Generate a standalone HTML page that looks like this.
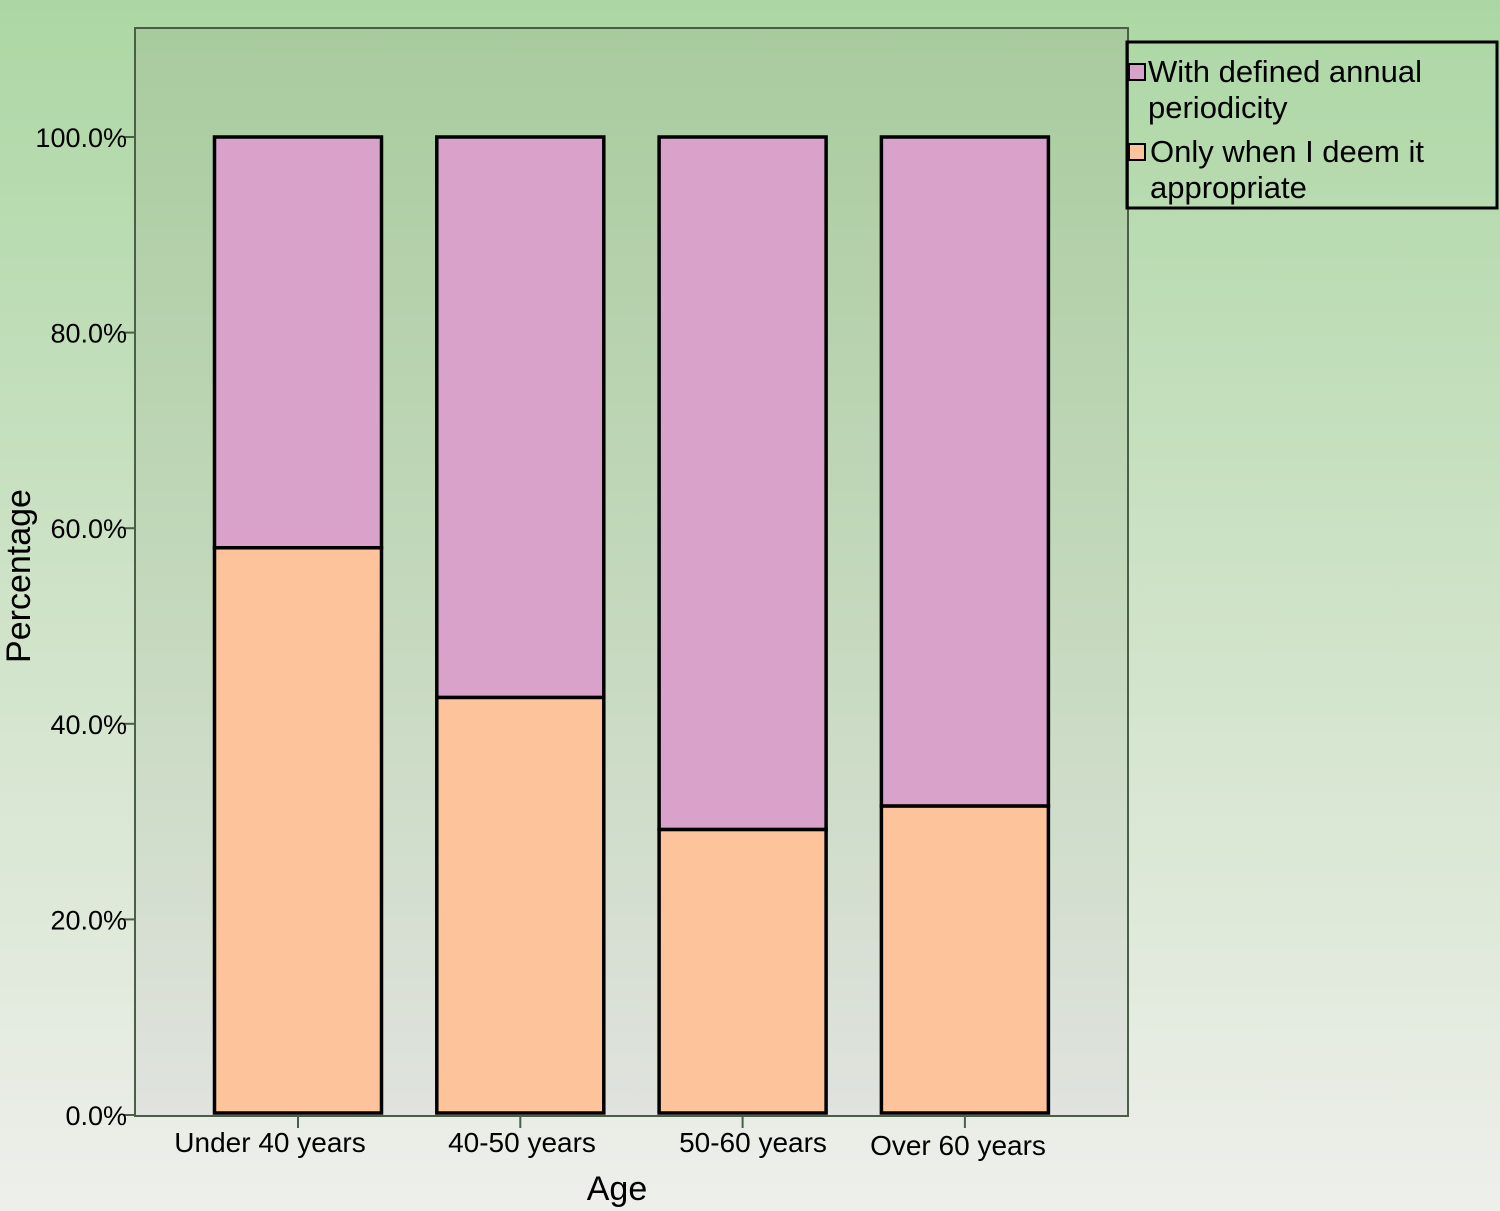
<!DOCTYPE html>
<html><head><meta charset="utf-8"><style>
html,body{margin:0;padding:0;width:1500px;height:1211px;overflow:hidden}
svg{display:block;font-family:"Liberation Sans",Arial,sans-serif}
</style></head><body>
<svg id="chart" width="1500" height="1211" viewBox="0 0 1500 1211" xmlns="http://www.w3.org/2000/svg">
<defs>
<linearGradient id="bgG" x1="0" y1="0" x2="0" y2="1"><stop offset="0" stop-color="#acd7a4"/><stop offset="0.5" stop-color="#cfe3c8"/><stop offset="1" stop-color="#eeefeb"/></linearGradient>
<linearGradient id="plotG" x1="0" y1="0" x2="0" y2="1"><stop offset="0" stop-color="#a8cb9e"/><stop offset="0.5" stop-color="#c3d8bb"/><stop offset="1" stop-color="#e0e3de"/></linearGradient>
</defs>
<rect x="0" y="0" width="1500" height="1211" fill="url(#bgG)"/>
<rect x="135" y="28" width="993" height="1088" fill="url(#plotG)" stroke="#4a5f48" stroke-width="2"/>
<g id="yaxis"></g>
<g id="bars"></g>
<g id="xaxis"></g>
<text transform="translate(30,576) rotate(-90)" text-anchor="middle" font-size="34" fill="#000">Percentage</text>
<text x="617" y="1200" text-anchor="middle" font-size="34" fill="#000">Age</text>
<g>
<rect x="1127" y="42" width="370" height="166" fill="none" stroke="#000" stroke-width="3"/>
<rect x="1129" y="64" width="16" height="16" fill="#d9a2ca" stroke="#000" stroke-width="2"/>
<text x="1148" y="82" font-size="31" fill="#000">With defined annual</text>
<text x="1148" y="118" font-size="31" fill="#000">periodicity</text>
<rect x="1129" y="144" width="16" height="16" fill="#fdc39a" stroke="#000" stroke-width="2"/>
<text x="1150" y="162" font-size="31" fill="#000">Only when I deem it</text>
<text x="1150" y="198" font-size="31" fill="#000">appropriate</text>
</g>
</svg>
<script>
const categories = ["Under 40 years","40-50 years","50-60 years","Over 60 years"];
const onlyWhenAppropriate = [58.0, 42.7, 29.2, 31.6];
const withAnnualPeriodicity = [42.0, 57.3, 70.8, 68.4];
const yTicks = [0,20,40,60,80,100];
const yTickLabels = ["0.0%","20.0%","40.0%","60.0%","80.0%","100.0%"];
const NS="http://www.w3.org/2000/svg";
const y0=1115, y100=137;
function yScale(v){return y0-(y0-y100)*v/100;}
const barCenters0=298, barStep=222.3, barW=167;
function xScale(i){return barCenters0+i*barStep;}
function mk(tag,attrs,parent){const e=document.createElementNS(NS,tag);for(const k in attrs)e.setAttribute(k,attrs[k]);parent.appendChild(e);return e;}
const ya=document.getElementById('yaxis'), xa=document.getElementById('xaxis'), bg=document.getElementById('bars');
yTicks.forEach((t,i)=>{
  const y=yScale(t);
  const l=mk('line',{x1:124,x2:135,y1:y,y2:y,stroke:'#4a5f48','stroke-width':2},ya);
  
  
  const tx=mk('text',{x:127,y:y+10,'text-anchor':'end','font-size':27,fill:'#000'},ya);
  tx.textContent=yTickLabels[i];
  
  
});
categories.forEach((c,i)=>{
  const cx=xScale(i), x=cx-barW/2;
  const a=onlyWhenAppropriate[i], b=withAnnualPeriodicity[i];
  const r1=mk('rect',{x:x,y:yScale(a),width:barW,height:yScale(0)-yScale(a)-2,fill:'#fdc39a',stroke:'#000','stroke-width':3.5},bg);
  
  
  const r2=mk('rect',{x:x,y:yScale(a+b),width:barW,height:yScale(a)-yScale(a+b),fill:'#d9a2ca',stroke:'#000','stroke-width':3.5},bg);
  
  
  const tk=mk('line',{x1:cx,x2:cx,y1:1116,y2:1128,stroke:'#4a5f48','stroke-width':2},xa);
  
  
  const lx=[270,522,753,958][i];
  const tx=mk('text',{x:lx,y:i===3?1155:1152,'text-anchor':'middle','font-size':28,fill:'#000'},xa);
  tx.textContent=c;
  
  
});
</script>
</body></html>
